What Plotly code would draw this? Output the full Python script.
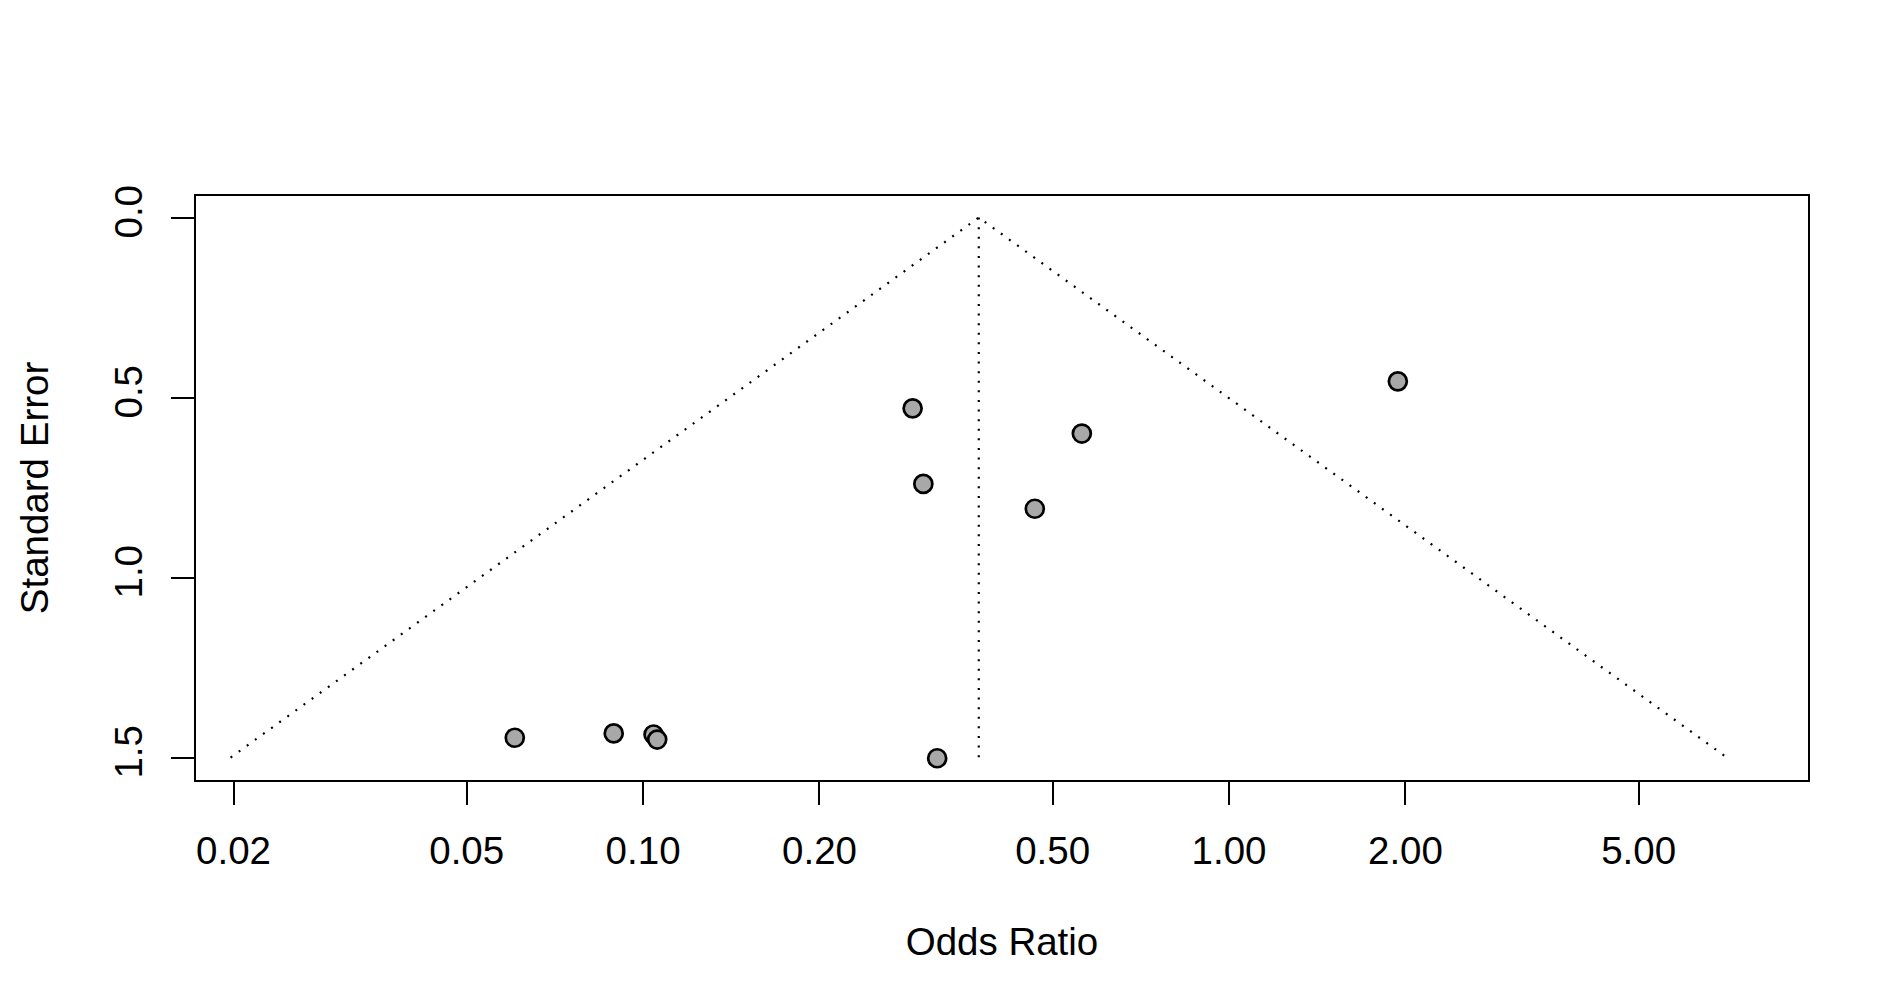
import plotly.graph_objects as go

# Estudos (odds ratio e erro padrão)
odds_ratio = [0.0604, 0.0891, 0.1042, 0.1057, 0.3176, 0.2884, 0.3008, 0.5607, 0.4661, 1.941]
erro_padrao = [1.445, 1.433, 1.436, 1.450, 1.502, 0.530, 0.740, 0.600, 0.809, 0.455]

# Estimativa combinada (topo do funil) e erro padrão máximo
or_combinado = 0.374
ep_maximo = 1.50
z = 1.96

# Eixos
ticks_x = [0.02, 0.05, 0.10, 0.20, 0.50, 1.00, 2.00, 5.00]
rotulos_x = ["0.02", "0.05", "0.10", "0.20", "0.50", "1.00", "2.00", "5.00"]
ticks_y = [0.0, 0.5, 1.0, 1.5]
rotulos_y = ["0.0", "0.5", "1.0", "1.5"]

FONTE = "Liberation Sans, Arial, Helvetica, sans-serif"


def main():
    import math

    log_c = math.log(or_combinado)
    inf = math.exp(log_c - z * ep_maximo)
    sup = math.exp(log_c + z * ep_maximo)

    fig = go.Figure()

    # Linhas do funil (pontilhadas)
    fig.add_trace(
        go.Scatter(
            x=[inf, or_combinado, sup],
            y=[ep_maximo, 0, ep_maximo],
            mode="lines",
            line=dict(color="black", width=2.2, dash="2px,8px"),
            hoverinfo="skip",
        )
    )
    fig.add_trace(
        go.Scatter(
            x=[or_combinado, or_combinado],
            y=[0, ep_maximo],
            mode="lines",
            line=dict(color="black", width=2.2, dash="2px,7.6px"),
            hoverinfo="skip",
        )
    )

    # Pontos dos estudos
    fig.add_trace(
        go.Scatter(
            x=odds_ratio,
            y=erro_padrao,
            mode="markers",
            marker=dict(size=18, color="#a8a8a8", line=dict(color="black", width=2.7)),
        )
    )

    fig.update_layout(
        width=1890,
        height=1007,
        showlegend=False,
        plot_bgcolor="white",
        paper_bgcolor="white",
        margin=dict(l=188, r=90, t=188, b=235),
        font=dict(family=FONTE, size=38.5, color="black"),
    )

    fig.update_xaxes(
        type="log",
        range=[-1.763, 0.988],
        tickvals=ticks_x,
        ticktext=rotulos_x,
        ticks="outside",
        ticklen=23,
        tickwidth=2,
        tickcolor="black",
        showline=True,
        linewidth=2,
        linecolor="black",
        mirror=True,
        showgrid=False,
        zeroline=False,
        ticklabelstandoff=13,
        title=dict(text="Odds Ratio", standoff=57, font=dict(size=38.5)),
    )

    fig.update_yaxes(
        range=[1.5624, -0.0598],
        tickvals=ticks_y,
        ticktext=rotulos_y,
        tickangle=-90,
        ticks="outside",
        ticklen=23,
        tickwidth=2,
        tickcolor="black",
        showline=True,
        linewidth=2,
        linecolor="black",
        mirror=True,
        showgrid=False,
        zeroline=False,
        ticklabelstandoff=14,
        title=dict(text="Standard Error", standoff=46, font=dict(size=38.5)),
    )

    fig.write_html("out.html")


if __name__ == "__main__":
    main()
